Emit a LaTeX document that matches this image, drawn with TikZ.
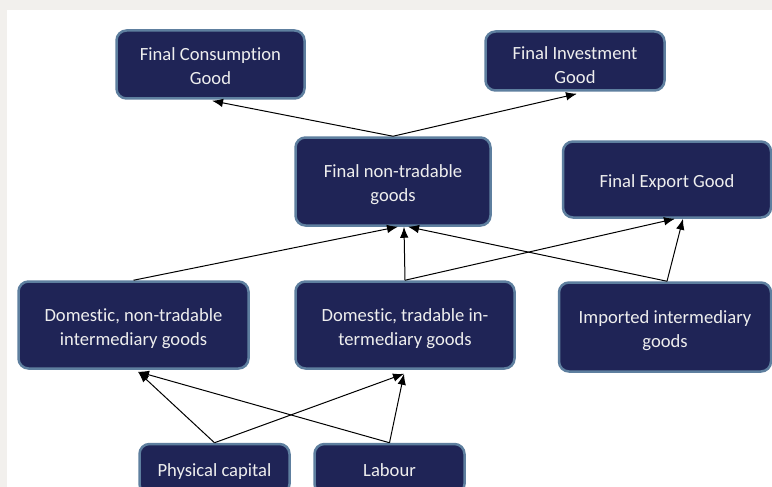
\documentclass[tikz,border=0pt]{standalone}
\usepackage{fontspec}
\setmainfont[Ligatures={NoCommon,NoRare}]{Carlito}
\usetikzlibrary{arrows.meta,calc}
\definecolor{boxfill}{HTML}{1F2456}
\definecolor{boxedge}{HTML}{5E7F9F}
\definecolor{bggray}{HTML}{F2F0ED}
\definecolor{txt}{HTML}{EEEEEE}
\tikzset{
  box/.style={draw=boxedge, line width=2.5pt, fill=boxfill, rounded corners=10pt, inner sep=0pt},
  lbl/.style={text=txt, align=center, inner sep=0pt,
    font=\fontsize{18.6}{23.8}\selectfont},
  arr/.style={-{Latex[length=11pt,width=8.5pt]}, line width=1pt, black}
}
\begin{document}
\begin{tikzpicture}[x=1pt,y=-1pt]
\useasboundingbox (0,0) rectangle (772,487);
\clip (0,0) rectangle (772,487);
\fill[bggray] (0,0) rectangle (772,487);
\fill[white] (7,10) rectangle (772,487);

\node[box, minimum width=188pt, minimum height=68pt] (fc) at (210.5,64.5) {};
\node[box, minimum width=179pt, minimum height=59pt] (fi) at (575,61) {};
\node[box, minimum width=195pt, minimum height=88pt] (fn) at (393,181.5) {};
\node[box, minimum width=208pt, minimum height=76pt] (fe) at (667,179.5) {};
\node[box, minimum width=230pt, minimum height=87pt] (dn) at (133.5,325) {};
\node[box, minimum width=219pt, minimum height=87pt] (dt) at (405,325) {};
\node[box, minimum width=212pt, minimum height=89pt] (im) at (665,327) {};
\node[box, minimum width=150pt, minimum height=50pt] (pc) at (214.5,469) {};
\node[box, minimum width=150pt, minimum height=50pt] (lb) at (389.5,469) {};

\node[lbl] (tfc) at ([yshift=-1.5pt]fc.center) {Final Consumption\\Good};
\node[lbl] (tfi) at ([yshift=-4pt]fi.center) {Final Investment\\Good};
\node[lbl] (tfn) at ([yshift=-3.5pt]fn.center) {Final non-tradable\\goods};
\node[lbl] (tfe) at ([yshift=-3.5pt]fe.center) {Final Export Good};
\node[lbl] (tdn) at ([yshift=-4pt]dn.center) {Domestic, non-tradable\\intermediary goods};
\node[lbl] (tdt) at ([yshift=-4pt]dt.center) {Domestic, tradable in-\\termediary goods};
\node[lbl] (tim) at ([yshift=-4pt]im.center) {Imported intermediary\\goods};
\node[lbl] (tpc) at ([yshift=-2.5pt]pc.center) {Physical capital};
\node[lbl] (tlb) at ([yshift=-1pt]lb.center) {Labour};

\draw[arr] (fn.north) -- ([xshift=1.5pt,yshift=-1pt]fc.south);
\draw[arr] (fn.north) -- ([xshift=2pt,yshift=-2pt]fi.south);
\draw[arr] (dn.north) -- ([xshift=5pt]fn.south);
\draw[arr] (dt.north) -- ([xshift=11pt]fn.south);
\draw[arr] (dt.north) -- ([xshift=8pt]fe.south);
\draw[arr] ([xshift=2pt]im.north) -- ([xshift=15pt]fn.south);
\draw[arr] ([xshift=2pt]im.north) -- ([xshift=16pt]fe.south);
\draw[arr] (pc.north) -- ([xshift=4.5pt,yshift=-2pt]dn.south);
\draw[arr] (pc.north) -- ([xshift=-1pt,yshift=-4pt]dt.south);
\draw[arr] (lb.north) -- ([xshift=4.5pt,yshift=-2pt]dn.south);
\draw[arr] (lb.north) -- ([xshift=-1pt,yshift=-4pt]dt.south);
\end{tikzpicture}
\end{document}
